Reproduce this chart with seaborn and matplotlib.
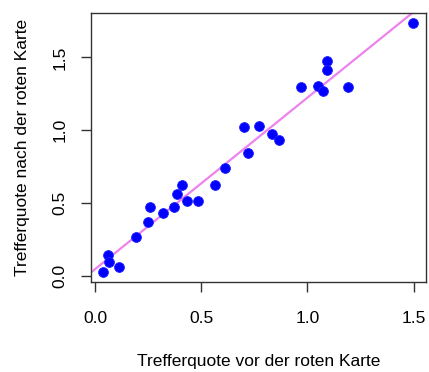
import numpy as np
import pandas as pd
import matplotlib
matplotlib.use("Agg")
import matplotlib.pyplot as plt
import seaborn as sns

vor = [0.038, 0.061, 0.066, 0.113, 0.194, 0.246, 0.260, 0.321, 0.369, 0.383,
       0.407, 0.430, 0.482, 0.562, 0.610, 0.700, 0.719, 0.770, 0.832, 0.865,
       0.969, 1.050, 1.073, 1.092, 1.092, 1.191, 1.499]
nach = [0.027, 0.144, 0.096, 0.062, 0.268, 0.371, 0.474, 0.433, 0.474, 0.564,
        0.625, 0.515, 0.515, 0.625, 0.742, 1.024, 0.845, 1.031, 0.976, 0.935,
        1.299, 1.306, 1.271, 1.478, 1.416, 1.299, 1.739]
xticks = [0.0, 0.5, 1.0, 1.5]
yticks = [0.0, 0.5, 1.0, 1.5]
xlabel = "Trefferquote vor der roten Karte"
ylabel = "Trefferquote nach der roten Karte"

df = pd.DataFrame({"vor": vor, "nach": nach})

sns.set_style("white", {"text.color": "black", "axes.labelcolor": "black",
                        "xtick.color": "black", "ytick.color": "black"})
plt.rcParams["font.family"] = ["Liberation Sans", "DejaVu Sans"]

fig = plt.figure(figsize=(4.29, 3.72), dpi=100)
ax = fig.add_axes([0.2121, 0.2427, 0.7802, 0.7232])

def padded(v):
    lo, hi = min(v), max(v)
    d = hi - lo
    return lo - 0.04 * d, hi + 0.04 * d

ax.set_xlim(*padded(vor))
ax.set_ylim(*padded(nach))

sns.regplot(data=df, x="vor", y="nach", ax=ax, ci=None, truncate=False,
            scatter_kws=dict(s=50, color="#0000ff", edgecolor="#2020ff",
                             linewidths=0.6, alpha=1, zorder=3),
            line_kws=dict(color="#ee82ee", lw=1.6, zorder=2))
ax.set_xlim(*padded(vor))
ax.set_ylim(*padded(nach))

ax.set_xticks(xticks)
ax.set_xticklabels([f"{t:.1f}" for t in xticks])
ax.set_yticks(yticks)
ax.set_yticklabels([f"{t:.1f}" for t in yticks], rotation=90, va="center")

for s in ax.spines.values():
    s.set_visible(True)
    s.set_color("#333333")
    s.set_linewidth(1.0)

ax.tick_params(axis="both", which="major", direction="out", length=7,
               width=1.0, color="#333333", labelcolor="black", labelsize=12.5,
               pad=14, bottom=True, left=True)
ax.tick_params(axis="y", pad=10)

ax.set_xlabel(xlabel, fontsize=12.5, labelpad=20, color="black")
ax.set_ylabel(ylabel, fontsize=12.5, labelpad=16, color="black")

fig.savefig("out.png", dpi=100)
